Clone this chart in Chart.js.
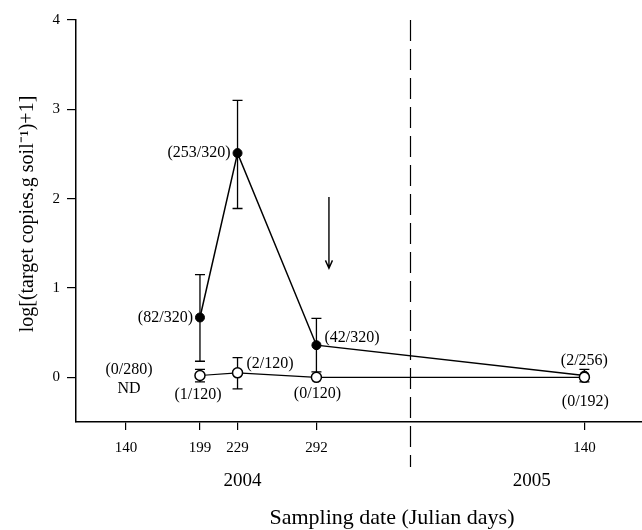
<!DOCTYPE html>
<html>
<head>
<meta charset="utf-8">
<script src="https://cdn.jsdelivr.net/npm/chart.js@4/dist/chart.umd.min.js"></script>
<style>
  html, body { margin: 0; padding: 0; background: #fff; }
  #wrap { width: 642px; height: 530px; }
</style>
</head>
<body>
<div id="wrap"><canvas id="c" width="642" height="530"></canvas></div>
<script>
// sampling days (2005 day 140 counted after the 366 days of 2004)
const days = [199, 229, 292, 506];

// inoculated plots (closed circles)
const closedMean = [0.67, 2.51, 0.36, 0.02];
const closedLow = [0.18, 1.89, 0.06, -0.05];
const closedHigh = [1.15, 3.10, 0.66, 0.09];
const closedRatio = ['(82/320)', '(253/320)', '(42/320)', '(2/256)'];

// control plots (open circles)
const openMean = [0.02, 0.05, 0.0, 0.0];
const openLow = [-0.05, -0.13, null, null];
const openHigh = [0.09, 0.22, null, null];
const openRatio = ['(1/120)', '(2/120)', '(0/120)', '(0/192)'];

const xTicks = [140, 199, 229, 292, 506];
const xTickLabels = ['140', '199', '229', '292', '140'];
const yTicks = [0, 1, 2, 3, 4];

const yearBreak = 366.5;
const years = ['2004', '2005'];
const yearCenters = [233, 464];
const arrowDay = 302;
const arrowFrom = 2.02;
const arrowTo = 1.22;

const serif = '"Liberation Serif", "Times New Roman", serif';

// label placement next to each point: [dx, dy, align]
const closedLabelPos = [[-7, 0, 'right'], [-7, 0, 'right'], [8, -7, 'left'], [0, -15, 'center']];
const openLabelPos = [[-2, 19, 'center'], [9, -9, 'left'], [1, 16, 'center'], [1, 24, 'center']];

const extras = {
    id: 'extras',
    beforeDatasetsDraw(chart) {
        const ctx = chart.ctx;
        const x = chart.scales.x, y = chart.scales.y;
        ctx.save();
        ctx.strokeStyle = '#000';
        ctx.lineWidth = 1.3;
        const bars = (lo, hi) => {
            days.forEach((d, i) => {
                if (lo[i] === null) return;
                const px = x.getPixelForValue(d);
                const y1 = y.getPixelForValue(lo[i]);
                const y2 = y.getPixelForValue(hi[i]);
                ctx.beginPath();
                ctx.moveTo(px, y1); ctx.lineTo(px, y2);
                ctx.moveTo(px - 5, y1); ctx.lineTo(px + 5, y1);
                ctx.moveTo(px - 5, y2); ctx.lineTo(px + 5, y2);
                ctx.stroke();
            });
        };
        bars(closedLow, closedHigh);
        bars(openLow, openHigh);

        // year separator
        const bx = Math.round(x.getPixelForValue(yearBreak)) + 0.5;
        ctx.setLineDash([21, 8]);
        ctx.lineWidth = 1.2;
        ctx.beginPath();
        ctx.moveTo(bx, chart.chartArea.top);
        ctx.lineTo(bx, 467);
        ctx.stroke();
        ctx.setLineDash([]);

        // arrow
        const ax = x.getPixelForValue(arrowDay);
        const ay1 = y.getPixelForValue(arrowFrom);
        const ay2 = y.getPixelForValue(arrowTo);
        ctx.lineWidth = 1.4;
        ctx.beginPath();
        ctx.moveTo(ax, ay1); ctx.lineTo(ax, ay2);
        ctx.moveTo(ax - 3.5, ay2 - 8); ctx.lineTo(ax, ay2); ctx.lineTo(ax + 3.5, ay2 - 8);
        ctx.stroke();
        ctx.restore();
    },
    afterDatasetsDraw(chart) {
        const ctx = chart.ctx;
        const x = chart.scales.x, y = chart.scales.y;
        ctx.save();
        ctx.fillStyle = '#000';
        ctx.textBaseline = 'middle';
        ctx.font = '16px ' + serif;
        const labels = (vals, texts, pos) => {
            days.forEach((d, i) => {
                const px = x.getPixelForValue(d);
                const py = y.getPixelForValue(vals[i]);
                ctx.textAlign = pos[i][2];
                ctx.fillText(texts[i], px + pos[i][0], py + pos[i][1]);
            });
        };
        labels(closedMean, closedRatio, closedLabelPos);
        labels(openMean, openRatio, openLabelPos);

        // not detected at the first sampling
        ctx.textAlign = 'center';
        const nx = x.getPixelForValue(xTicks[0]) + 3;
        ctx.fillText('(0/280)', nx, y.getPixelForValue(0) - 8);
        ctx.fillText('ND', nx, y.getPixelForValue(0) + 11);

        ctx.font = '19px ' + serif;
        years.forEach((t, i) => ctx.fillText(t, x.getPixelForValue(yearCenters[i]), 481));

        ctx.font = '22px ' + serif;
        ctx.fillText('Sampling date (Julian days)', 392, 518);

        ctx.translate(28, 214);
        ctx.rotate(-Math.PI / 2);
        ctx.font = '20px ' + serif;
        ctx.fillText('log[(target copies.g soil\u207B\u00B9)+1]', 0, 0);
        ctx.restore();
    }
};

new Chart(document.getElementById('c'), {
    type: 'line',
    data: {
        datasets: [
            {
                label: 'inoculated',
                order: 1,
                data: days.map((d, i) => ({ x: d, y: closedMean[i] })),
                borderColor: '#000',
                borderWidth: 1.5,
                backgroundColor: '#000',
                pointBackgroundColor: '#000',
                pointBorderColor: '#000',
                pointRadius: 4.5,
                pointBorderWidth: 1,
                tension: 0
            },
            {
                label: 'control',
                order: 0,
                data: days.map((d, i) => ({ x: d, y: openMean[i] })),
                borderColor: '#000',
                borderWidth: 1.1,
                pointBackgroundColor: '#fff',
                pointBorderColor: '#000',
                pointRadius: 5,
                pointBorderWidth: 1.5,
                tension: 0
            }
        ]
    },
    options: {
        responsive: false,
        animation: false,
        events: [],
        layout: { autoPadding: false, padding: { top: 20, right: 0, left: 0, bottom: 0 } },
        plugins: {
            legend: { display: false },
            tooltip: { enabled: false }
        },
        scales: {
            x: {
                type: 'linear',
                min: 100,
                max: 552,
                border: { color: '#000', width: 1.5 },
                grid: { drawOnChartArea: false, drawTicks: true, tickLength: 8, color: '#000', lineWidth: 1.2 },
                ticks: {
                    color: '#000',
                    font: { family: serif, size: 15 },
                    padding: 9,
                    maxRotation: 0,
                    autoSkip: false,
                    callback: (v) => xTickLabels[xTicks.indexOf(v)]
                },
                afterBuildTicks: (scale) => { scale.ticks = xTicks.map((v) => ({ value: v })); },
                afterFit: (scale) => {
                    scale.height = 108;
                    scale.paddingLeft = 0;
                    scale.paddingRight = 0;
                }
            },
            y: {
                min: -0.5,
                max: 4,
                border: { color: '#000', width: 1.5 },
                grid: { drawOnChartArea: false, drawTicks: true, tickLength: 9, color: '#000', lineWidth: 1.2 },
                ticks: {
                    color: '#000',
                    font: { family: serif, size: 15 },
                    padding: 7
                },
                afterBuildTicks: (scale) => { scale.ticks = yTicks.map((v) => ({ value: v })); },
                afterFit: (scale) => {
                    scale.width = 76;
                    scale.paddingTop = 0;
                    scale.paddingBottom = 0;
                }
            }
        }
    },
    plugins: [extras]
});
</script>
</body>
</html>
